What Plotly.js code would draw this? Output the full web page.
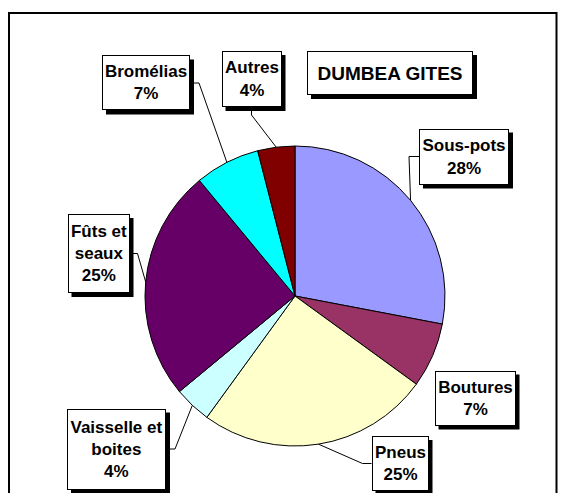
<!DOCTYPE html>
<html><head><meta charset="utf-8">
<script src="https://cdn.plot.ly/plotly-3.0.1.min.js"></script>
<style>html,body{margin:0;padding:0;background:#fff}#chart{width:563px;height:493px}</style>
</head><body><div id="chart"></div>
<script>
// ---- data ----
const categories = ["Sous-pots", "Boutures", "Pneus", "Vaisselle et boites", "Fûts et seaux", "Bromélias", "Autres"];
const labelNames = ["Sous-pots", "Boutures", "Pneus", "Vaisselle et<br>boites", "Fûts et<br>seaux", "Bromélias", "Autres"];
const values = [28, 7, 25, 4, 25, 7, 4];
const colors = ["#9999FF", "#993366", "#FFFFCC", "#CCFFFF", "#660066", "#00FFFF", "#800000"];
const chartTitle = "DUMBEA GITES";

// ---- layout geometry (pixels) ----
const W = 563, H = 493;
const cx = 295, cy = 296, R = 150;
// label boxes: left, top, width, height, leader side, elbow length
const boxes = [
  {l: 419,  t: 128.5, w: 90, h: 56, side: "left",   elbow: 10},
  {l: 434.5,t: 370.5, w: 81, h: 55, side: null,     elbow: 0},
  {l: 371.5,t: 436,   w: 57, h: 55, side: "left",   elbow: 9},
  {l: 67,   t: 408.5, w: 99, h: 81, side: "right",  elbow: 9},
  {l: 67.5, t: 214,   w: 62, h: 79, side: "right",  elbow: 8},
  {l: 102,  t: 55.5,  w: 88, h: 55, side: "right",  elbow: 9},
  {l: 221.5,t: 51,    w: 60, h: 56, side: "bottom", elbow: 8}
];
const titleBox = {l: 307, t: 51, w: 166, h: 44};
const SHADOW = 4;

const FONT = "'Liberation Sans', Arial, sans-serif";
const px = x => x / W;
const py = y => 1 - y / H;

const total = values.reduce((a, b) => a + b, 0);
const annotations = [];
const shapes = [];

// outer frame
shapes.push({type: "rect", xref: "paper", yref: "paper",
  x0: px(9), x1: px(556.5), y0: py(520), y1: py(13),
  line: {color: "#000", width: 2}, fillcolor: "rgba(0,0,0,0)", layer: "below"});

function boxAnn(text, b, size) {
  // drop shadow
  shapes.push({type: "rect", xref: "paper", yref: "paper",
    x0: px(b.l + SHADOW), x1: px(b.l + b.w + SHADOW),
    y0: py(b.t + b.h + SHADOW), y1: py(b.t + SHADOW),
    line: {width: 0}, fillcolor: "#000", layer: "above"});
  annotations.push({xref: "paper", yref: "paper", x: px(b.l), y: py(b.t),
    xanchor: "left", yanchor: "top", showarrow: false, align: "center", valign: "middle",
    width: b.w - 2, height: b.h - 2, borderwidth: 1, borderpad: 0,
    bgcolor: "#fff", bordercolor: "#000",
    font: {family: FONT, size: size, color: "#000"},
    text: "<b>" + text + "</b>"});
}

let cum = 0;
values.forEach((v, i) => {
  const pct = Math.round(v / total * 100) + "%";
  const b = boxes[i];
  boxAnn(labelNames[i] + "<br>" + pct, b, 17);
  const theta = (cum + v / 2) / total * 2 * Math.PI;
  cum += v;
  if (!b.side) return;
  const ex = cx + R * Math.sin(theta), ey = cy - R * Math.cos(theta);
  let sx, sy, mx, my;
  if (b.side === "left")  { sx = b.l; sy = b.t + b.h / 2; mx = sx - b.elbow; my = sy; }
  if (b.side === "right") { sx = b.l + b.w; sy = b.t + b.h / 2; mx = sx + b.elbow; my = sy; }
  if (b.side === "bottom"){ sx = b.l + b.w / 2; sy = b.t + b.h; mx = sx; my = sy + b.elbow; }
  shapes.push({type: "path", xref: "paper", yref: "paper",
    path: `M ${px(sx)},${py(sy)} L ${px(mx)},${py(my)} L ${px(ex)},${py(ey)}`,
    line: {color: "#000", width: 1}});
});

boxAnn(chartTitle, titleBox, 19);

const trace = {
  type: "pie",
  labels: categories,
  values: values,
  sort: false,
  direction: "clockwise",
  rotation: 0,
  textinfo: "none",
  hoverinfo: "label+percent",
  marker: {colors: colors, line: {color: "#000", width: 1}},
  domain: {x: [px(cx - R), px(cx + R)], y: [py(cy + R), py(cy - R)]},
  showlegend: false
};

Plotly.newPlot("chart", [trace], {
  width: W, height: H,
  margin: {l: 0, r: 0, t: 0, b: 0},
  paper_bgcolor: "#fff",
  showlegend: false,
  shapes: shapes,
  annotations: annotations
}, {displayModeBar: false, staticPlot: true});
</script>
</body></html>
